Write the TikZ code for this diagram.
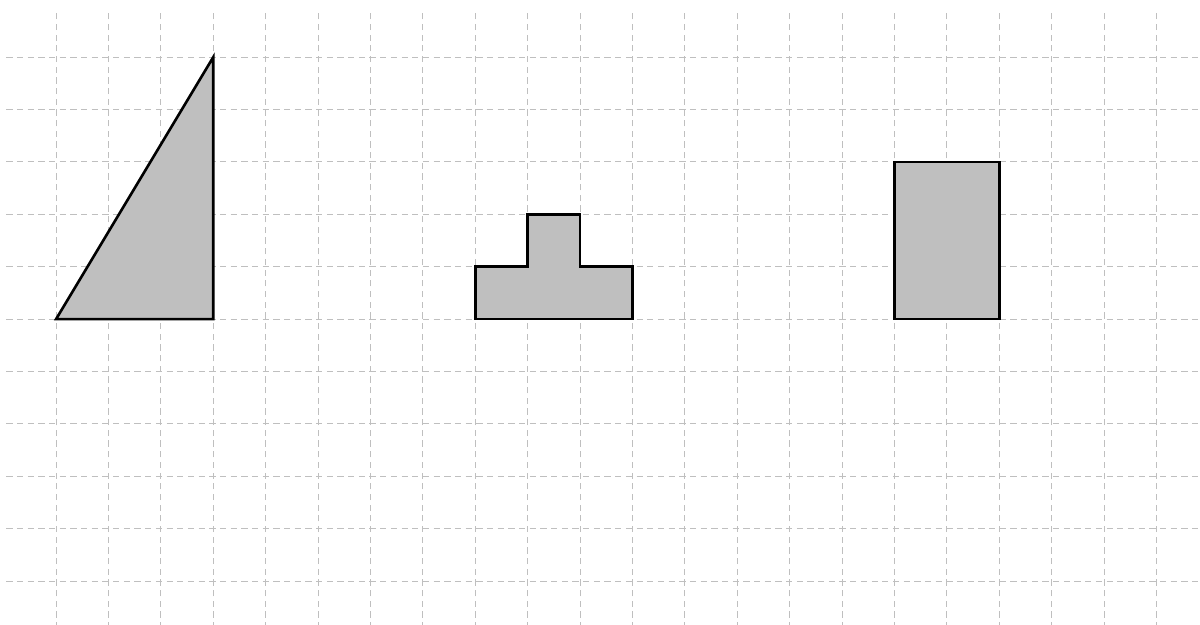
\documentclass[tikz,border=0pt]{standalone}
\usepackage{tikz}
\tikzset{
  gridline/.style={dash pattern=on 3.4pt off 2.4pt, gray!50, line width=0.55pt},
  shapefill/.style={fill=black!25},
  shapeline/.style={draw=black, line width=1.4pt, line join=miter},
}
\begin{document}
\begin{tikzpicture}
    \useasboundingbox (-1.07,-5.82) rectangle (21.83,6.09);

    % shapes
    \coordinate (t1) at (0,0);
    \coordinate (t2) at (3,0);
    \coordinate (t3) at (3,5);
    \path[shapefill] (t1) -- (t2) -- (t3) -- cycle;
    \path[shapefill] (8,0) -- (11,0) -- (11,1) -- (10,1) -- (10,2) -- (9,2) -- (9,1) -- (8,1) -- cycle;
    \path[shapefill] (16,0) rectangle (18,3);

    % grid over the fill
    \draw[gridline, step=1] (-0.95,-5.9) grid (21.9,5.92);

    % outlines on top
    \draw[shapeline] (t1) -- (t2) -- (t3) -- cycle;
    \draw[shapeline] (8,0) -- (11,0) -- (11,1) -- (10,1) -- (10,2) -- (9,2) -- (9,1) -- (8,1) -- cycle;
    \draw[shapeline] (16,0) rectangle (18,3);

  \end{tikzpicture}
\end{document}
